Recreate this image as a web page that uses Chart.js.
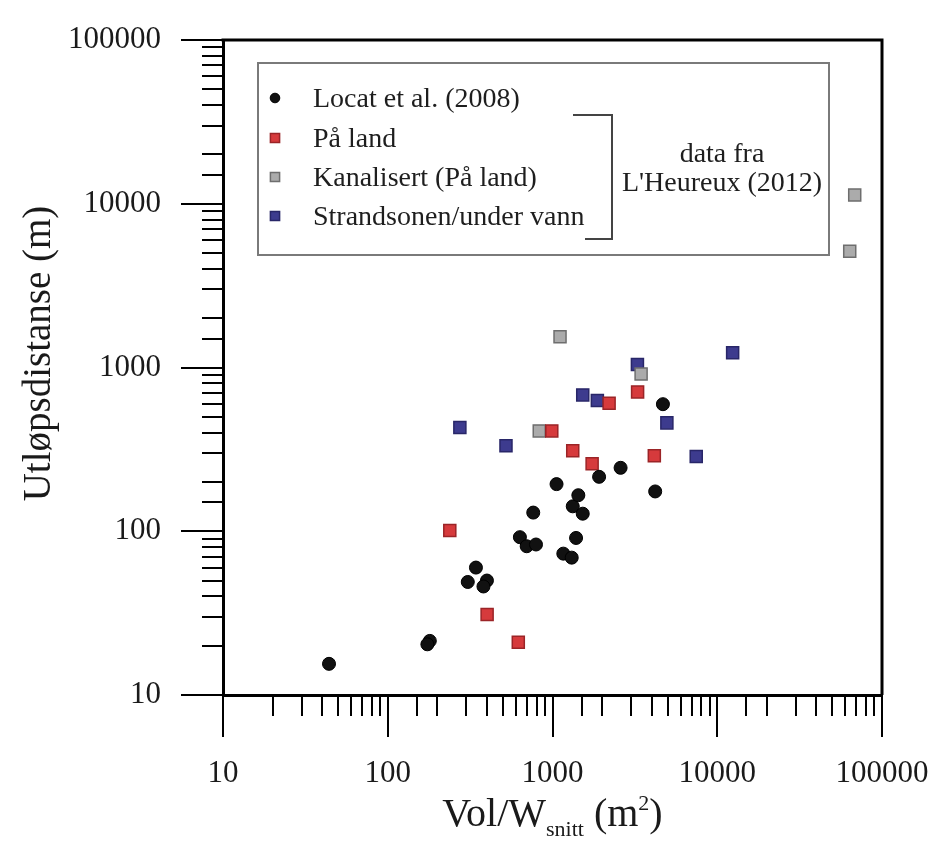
<!DOCTYPE html>
<html><head><meta charset="utf-8">
<script src="https://cdn.jsdelivr.net/npm/chart.js@4"></script>
<style>html,body{margin:0;padding:0;background:#fff;}</style>
</head><body>
<canvas id="c" width="934" height="841"></canvas>
<script>
// ---------- DATA ----------
const seriesNames = ["Locat et al. (2008)", "På land", "Kanalisert (På land)", "Strandsonen/under vann"];
const noteLines = ["data fra", "L'Heureux (2012)"];
const xTitleMain = "Vol/W", xTitleSub = "snitt", xTitleUnit = " (m", xTitleSup = "2", xTitleEnd = ")";
const yTitle = "Utløpsdistanse (m)";
const xTickLabels = [10, 100, 1000, 10000, 100000];
const yTickLabels = [10, 100, 1000, 10000, 100000];

const locatX = [44, 180, 174, 343, 306, 400, 381, 634, 697, 794, 764, 1058, 1163, 1308, 1390, 1327, 1435, 1526, 1918, 2590, 4200, 4680];
const locatY = [15.5, 21.4, 20.4, 60, 49, 50, 46, 92, 81, 83, 130, 194, 73, 69, 91, 142, 166, 128, 215, 244, 175, 597];

const landX = [238, 401, 620, 990, 1327, 1740, 2206, 3285, 4150];
const landY = [101, 31, 21, 410, 310, 258, 605, 709, 289];

const kanalX = [831, 1111, 3450, 68300, 63700];
const kanalY = [410, 1540, 913, 11300, 5120];

const strandX = [274, 522, 1526, 1872, 3277, 4946, 7455, 12400];
const strandY = [430, 333, 680, 628, 1043, 459, 286, 1230];

// ---------- BUILD ----------
const pts = (xs, ys) => xs.map((x, i) => ({x: x, y: ys[i]}));
const SERIF = "'Liberation Serif', 'Times New Roman', serif";
const isDecade = v => Math.abs(Math.log10(v) - Math.round(Math.log10(v))) < 1e-9;

const datasets = [
  {label: seriesNames[0], data: pts(locatX, locatY), pointStyle: 'circle', pointRadius: 6.5,
   backgroundColor: '#111', borderColor: '#000', borderWidth: 1, legendR: 4.8},
  {label: seriesNames[1], data: pts(landX, landY), pointStyle: 'rect', pointRadius: 8.5,
   backgroundColor: '#d63a3c', borderColor: '#9b2427', borderWidth: 1.5, legendR: 6.5},
  {label: seriesNames[2], data: pts(kanalX, kanalY), pointStyle: 'rect', pointRadius: 8.5,
   backgroundColor: '#ababab', borderColor: '#6e6e6e', borderWidth: 1.5, legendR: 6.5},
  {label: seriesNames[3], data: pts(strandX, strandY), pointStyle: 'rect', pointRadius: 8.5,
   backgroundColor: '#3d3b8e', borderColor: '#282668', borderWidth: 1.5, legendR: 6.5}
];

const tickPlugin = {
  id: 'ticksAndFrame',
  afterDraw(chart) {
    const ctx = chart.ctx, ca = chart.chartArea;
    ctx.save();
    ctx.strokeStyle = '#000';
    ctx.lineWidth = 3;
    ctx.beginPath();
    ctx.moveTo(ca.left - 1.5, ca.top); ctx.lineTo(ca.right, ca.top); ctx.lineTo(ca.right, ca.bottom);
    ctx.stroke();
    ctx.lineWidth = 2;
    const xs = chart.scales.x, ys = chart.scales.y;
    ctx.beginPath();
    xs.ticks.forEach(t => {
      const px = Math.round(xs.getPixelForValue(t.value));
      const len = isDecade(t.value) ? 42 : 21;
      ctx.moveTo(px, ca.bottom); ctx.lineTo(px, ca.bottom + len);
    });
    ys.ticks.forEach(t => {
      const py = Math.round(ys.getPixelForValue(t.value));
      const len = isDecade(t.value) ? 42 : 21;
      ctx.moveTo(ca.left, py); ctx.lineTo(ca.left - len, py);
    });
    ctx.stroke();

    // axis titles
    ctx.fillStyle = '#1a1a1a';
    ctx.textBaseline = 'alphabetic';
    const big = "40px " + SERIF, small = "22px " + SERIF;
    ctx.font = big; const w1 = ctx.measureText(xTitleMain).width;
    ctx.font = small; const w2 = ctx.measureText(xTitleSub).width;
    ctx.font = big; const w3 = ctx.measureText(xTitleUnit).width;
    ctx.font = small; const w4 = ctx.measureText(xTitleSup).width;
    ctx.font = big; const w5 = ctx.measureText(xTitleEnd).width;
    const total = w1 + w2 + w3 + w4 + w5;
    let x = (ca.left + ca.right) / 2 - total / 2;
    const base = 826;
    ctx.textAlign = 'left';
    ctx.font = big; ctx.fillText(xTitleMain, x, base); x += w1;
    ctx.font = small; ctx.fillText(xTitleSub, x, base + 10); x += w2;
    ctx.font = big; ctx.fillText(xTitleUnit, x, base); x += w3;
    ctx.font = small; ctx.fillText(xTitleSup, x, base - 16); x += w4;
    ctx.font = big; ctx.fillText(xTitleEnd, x, base);

    ctx.save();
    ctx.translate(40, (ca.top + ca.bottom) / 2 - 14);
    ctx.rotate(-Math.PI / 2);
    ctx.textAlign = 'center'; ctx.textBaseline = 'middle';
    ctx.font = "39px " + SERIF;
    ctx.fillText(yTitle, 0, 0);
    ctx.restore();
    ctx.restore();
  }
};

const legendPlugin = {
  id: 'customLegend',
  afterDraw(chart) {
    const ctx = chart.ctx, ca = chart.chartArea;
    const L = ca.left + 35, T = ca.top + 23, R = ca.left + 606, B = ca.top + 215;
    ctx.save();
    ctx.strokeStyle = '#7a7a7a'; ctx.lineWidth = 2;
    ctx.strokeRect(L, T, R - L, B - T);
    const rows = [35, 75, 114, 153];
    ctx.font = "28px " + SERIF;
    ctx.textBaseline = 'middle'; ctx.textAlign = 'left';
    chart.data.datasets.forEach((ds, i) => {
      const y = T + rows[i];
      ctx.fillStyle = ds.backgroundColor; ctx.strokeStyle = ds.borderColor; ctx.lineWidth = ds.borderWidth;
      Chart.helpers.drawPoint(ctx, {pointStyle: ds.pointStyle, radius: ds.legendR, rotation: 0, borderWidth: ds.borderWidth}, L + 17, y);
      ctx.fillStyle = '#1e1e1e';
      ctx.fillText(ds.label, L + 55, y + 2);
    });
    ctx.strokeStyle = '#444'; ctx.lineWidth = 2;
    ctx.beginPath();
    ctx.moveTo(L + 315, T + 52); ctx.lineTo(L + 354, T + 52); ctx.lineTo(L + 354, T + 176); ctx.lineTo(L + 327, T + 176);
    ctx.stroke();
    ctx.fillStyle = '#1e1e1e'; ctx.textAlign = 'center';
    ctx.fillText(noteLines[0], L + 464, T + 92);
    ctx.fillText(noteLines[1], L + 464, T + 121);
    ctx.restore();
  }
};

new Chart(document.getElementById('c'), {
  type: 'scatter',
  data: {datasets: datasets},
  options: {
    responsive: false, animation: false, devicePixelRatio: 1,
    layout: {padding: {left: 0, right: 52, top: 40, bottom: 0}},
    plugins: {legend: {display: false}, tooltip: {enabled: false}},
    scales: {
      x: {
        type: 'logarithmic', position: 'bottom', min: 10, max: 100000,
        border: {display: true, color: '#000', width: 3},
        grid: {display: true, drawOnChartArea: false, drawTicks: true, tickLength: 42, tickColor: 'rgba(0,0,0,0)'},
        ticks: {autoSkip: false, maxRotation: 0, minRotation: 0, padding: 18, color: '#1a1a1a',
          font: {family: SERIF, size: 31},
          callback: v => (isDecade(v) && xTickLabels.includes(Math.round(v))) ? String(Math.round(v)) : ''},
        afterFit: s => { s.height = 146; s.paddingRight = 0; s.paddingLeft = 0; }
      },
      y: {
        type: 'logarithmic', position: 'left', min: 10, max: 100000,
        border: {display: true, color: '#000', width: 3},
        grid: {display: true, drawOnChartArea: false, drawTicks: true, tickLength: 42, tickColor: 'rgba(0,0,0,0)'},
        ticks: {autoSkip: false, padding: 20, color: '#1a1a1a',
          font: {family: SERIF, size: 31},
          callback: v => (isDecade(v) && yTickLabels.includes(Math.round(v))) ? String(Math.round(v)) : ''},
        afterFit: s => { s.width = 223; s.paddingTop = 0; s.paddingBottom = 0; }
      }
    }
  },
  plugins: [tickPlugin, legendPlugin]
});
</script>
</body></html>
